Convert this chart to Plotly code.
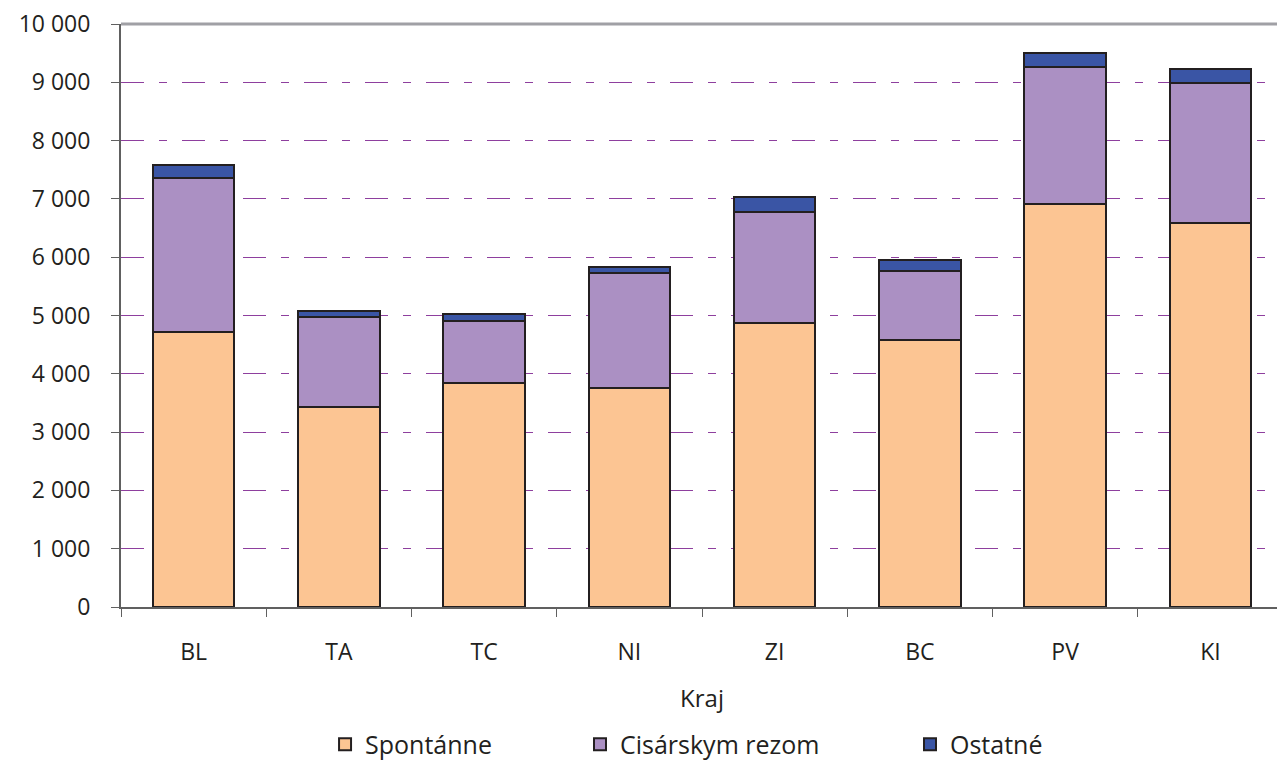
import plotly.graph_objects as go

kraje = ["BL", "TA", "TC", "NI", "ZI", "BC", "PV", "KI"]
spontanne = [4720, 3425, 3835, 3750, 4875, 4585, 6915, 6595]
cisarskym = [2640, 1550, 1070, 1975, 1905, 1175, 2350, 2385]
ostatne = [220, 100, 120, 100, 255, 185, 240, 240]

series = [
    ("Spontánne", spontanne, "#FCC593", "legend"),
    ("Cisárskym rezom", cisarskym, "#AB90C3", "legend2"),
    ("Ostatné", ostatne, "#3A55A5", "legend3"),
]

fig = go.Figure()
for name, vals, col, lg in series:
    fig.add_trace(go.Bar(
        x=kraje, y=vals, name=name, legend=lg,
        marker=dict(color=col, line=dict(color="#231F20", width=2)),
        width=0.56,
    ))

font_family = "Open Sans, DejaVu Sans, sans-serif"
leg_common = dict(orientation="h", xanchor="left", y=-0.236, yanchor="middle",
                  font=dict(size=25), bgcolor="rgba(0,0,0,0)")

fig.update_layout(
    barmode="stack",
    width=1277, height=754,
    margin=dict(l=113, r=2, t=16, b=155, autoexpand=False),
    paper_bgcolor="white", plot_bgcolor="white",
    separators=", ",
    font=dict(family=font_family, size=22, color="#231F20"),
    showlegend=True,
    legend=dict(x=0.1756, **leg_common),
    legend2=dict(x=0.395, **leg_common),
    legend3=dict(x=0.679, **leg_common),
    xaxis=dict(
        title=dict(text="Kraj", font=dict(size=24), standoff=25),
        automargin=False,
        showline=True, linecolor="#606060", linewidth=2,
        ticks="outside", tickson="boundaries", ticklen=8, tickcolor="#606060",
        tickfont=dict(size=23), showgrid=False, ticklabelstandoff=23,
    ),
    yaxis=dict(
        range=[0, 10000], dtick=1000, tickformat=",d",
        automargin=False, ticklabeloverflow="allow",
        showline=True, linecolor="#606060", linewidth=2,
        ticks="outside", ticklen=8, tickcolor="#606060",
        tickfont=dict(size=23), ticklabelstandoff=16,
        showgrid=True, gridcolor="#8E3F9E", gridwidth=1, griddash="23px,15px,8px,15px",
        zeroline=False,
    ),
    shapes=[
        dict(type="line", xref="x domain", yref="y domain", x0=0, x1=1, y0=1, y1=1,
             line=dict(color="#A0A0A5", width=3), layer="above"),
        dict(type="line", xref="x domain", yref="y domain", x0=1, x1=1, y0=0, y1=1,
             line=dict(color="#A0A0A5", width=2), layer="above"),
    ],
)

fig.write_html("out.html")
